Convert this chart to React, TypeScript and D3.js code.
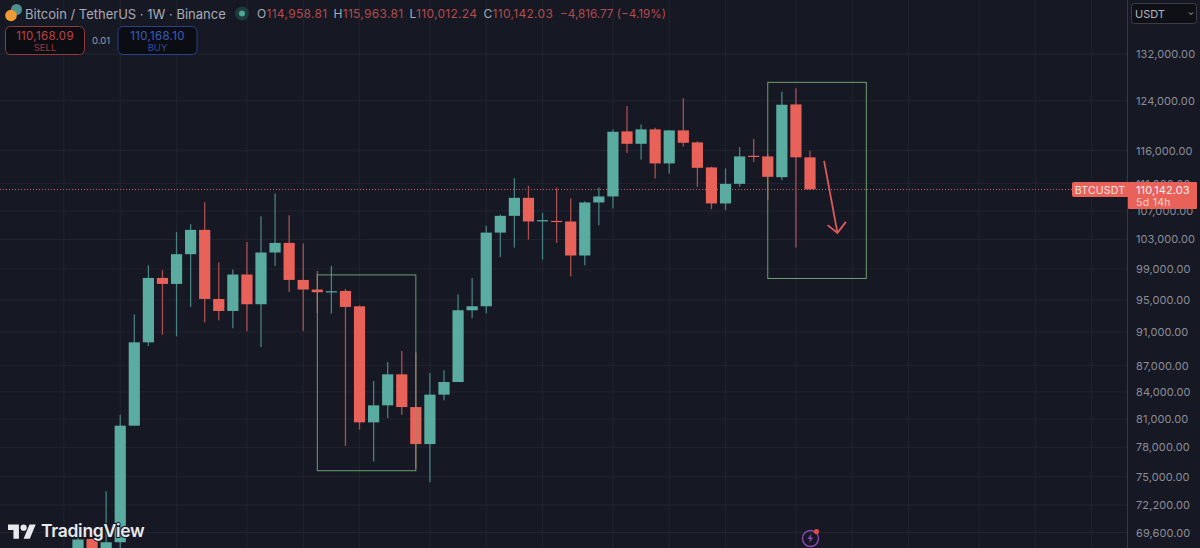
import * as d3 from "d3";
import { useEffect, useRef } from "react";

const WIDTH = 1200;
const HEIGHT = 548;

// weekly BTC/USDT candles (first few run off the bottom)
const opens = [
  67400, 69000, 67700, 68700, 80290, 89760, 97835, 97053, 100990, 104330, 95122, 93606, 98281,
  94450, 101220, 102529, 97573, 96327, 96018, 96147, 94190, 80647, 82504, 85999, 82316, 78338,
  83694, 85118, 93694, 94198, 103950, 106304, 108896, 105593, 105593, 105508, 100814, 108227,
  109100, 119020, 117061, 119340, 114028, 119180, 117280, 113420, 108082, 110956, 115195, 115101,
  111950, 123390, 114958.81,
];
const closes = [
  68950, 67600, 68700, 80290, 89760, 97835, 97053, 100990, 104330, 95122, 93606, 98281, 94450,
  101220, 102529, 97573, 96327, 95980, 96108, 94109, 80647, 82504, 85999, 82316, 78338, 83694,
  85118, 93694, 94198, 103950, 106304, 108896, 105508, 105692, 105452, 100814, 108227, 109100,
  118956, 117061, 119340, 114028, 119180, 117217, 113358, 108082, 110956, 115101, 115101, 112000,
  123336, 114958.81, 110142.03,
];
const highs = [
  69100, 69050, 73559, 81482, 93156, 99512, 98850, 104050, 105130, 108270, 99873, 98942, 102666,
  106260, 109539, 106402, 102447, 98756, 99420, 96405, 94323, 85232, 87427, 88725, 88535, 86149,
  86462, 95684, 97835, 104890, 106503, 111807, 110660, 106731, 110423, 108808, 108416, 110423,
  119340, 123121, 120140, 119595, 119260, 124397, 117437, 113530, 113267, 116544, 117800, 115460,
  125501, 126074, 115963.81,
];
const lows = [
  66900, 67000, 67000, 67000, 80290, 89321, 90695, 90489, 94109, 92163, 92448, 91463, 91097, 89201,
  99420, 96018, 91133, 93318, 93281, 78129, 79863, 76544, 81113, 81482, 75830, 74450, 83058, 85118,
  92696, 93281, 100625, 101900, 102997, 100276, 102529, 98058, 99512, 104990, 107361, 115612,
  114579, 111761, 112511, 116653, 110512, 107261, 107117, 110512, 114226, 108561, 111507, 101900,
  110012.24,
];

const priceTicks = [
  132000, 124000, 116000, 111000, 107000, 103000, 99000, 95000, 91000, 87000, 84000, 81000, 78000,
  75000, 72200, 69600,
];
// month lines, as bar numbers (they go on past the last candle)
const monthBars = [-1, 3, 7, 12, 16, 20, 25, 29, 33, 38, 42, 46, 51, 55, 59, 64, 68, 72];

// the two green rectangles and the red arrow, in bar number / price
const boxBars = [[17, 24], [49, 56]];
const boxPrices = [[98229, 75597], [127090, 97760]];
const arrowShaft: [number, number][] = [[53, 114425], [53.95, 103911]];
const arrowHead: [number, number][] = [[53.25, 104990], [53.95, 103911], [54.55, 105453]];

const lastPrice = closes[closes.length - 1];

const BG = "#161824";
const UP = "#5aaca1";
const DOWN = "#e8625a";
const UP_WICK = "#47807f";
const DOWN_WICK = "#a94f50";
const GRID = "#22252f";
const BOX = "#6c9f6f";
const FONT = "Inter, 'Noto Sans', sans-serif";

export default function App() {
  const svgRef = useRef<SVGSVGElement | null>(null);

  useEffect(() => {
    const svg = d3.select(svgRef.current);
    svg.selectAll("*").remove();
    svg.attr("font-family", FONT);

    const x = d3.scaleLinear().domain([0, 52]).range([78, 810]);
    const y = d3.scaleLog().domain([132000, 69600]).range([54, 532.5]);
    const axisX = 1127.5;
    const fmt = d3.format(",.2f");

    svg.append("rect").attr("width", WIDTH).attr("height", HEIGHT).attr("fill", BG);

    // Gridlines
    const grid = svg.append("g").attr("stroke", GRID).attr("stroke-width", 1);
    grid.selectAll("line.h")
      .data(priceTicks)
      .enter()
      .append("line")
      .attr("x1", 0)
      .attr("x2", axisX)
      .attr("y1", d => y(d))
      .attr("y2", d => y(d));
    grid.selectAll("line.v")
      .data(monthBars)
      .enter()
      .append("line")
      .attr("x1", d => x(d))
      .attr("x2", d => x(d))
      .attr("y1", 0)
      .attr("y2", HEIGHT);

    // last price line
    const tagY = Math.round(y(lastPrice)) + 0.5;
    svg.append("line")
      .attr("x1", 0)
      .attr("x2", axisX)
      .attr("y1", tagY)
      .attr("y2", tagY)
      .attr("stroke", "#c9605f")
      .attr("stroke-width", 1)
      .attr("stroke-dasharray", "1 2");

    // candles
    const bars = d3.range(opens.length);
    svg.append("g")
      .selectAll("line")
      .data(bars)
      .enter()
      .append("line")
      .attr("x1", i => x(i))
      .attr("x2", i => x(i))
      .attr("y1", i => y(highs[i]))
      .attr("y2", i => y(lows[i]))
      .attr("stroke", i => (closes[i] >= opens[i] ? UP_WICK : DOWN_WICK))
      .attr("stroke-width", 1.3);

    svg.append("g")
      .selectAll("rect")
      .data(bars)
      .enter()
      .append("rect")
      .attr("x", i => x(i) - 5.6)
      .attr("width", 11.2)
      .attr("y", i => y(Math.max(opens[i], closes[i])))
      .attr("height", i => Math.max(1.2, Math.abs(y(opens[i]) - y(closes[i]))))
      .attr("fill", i => (closes[i] >= opens[i] ? UP : DOWN));

    // annotations
    boxBars.forEach((b, k) => {
      svg.append("rect")
        .attr("x", x(b[0]))
        .attr("y", y(boxPrices[k][0]))
        .attr("width", x(b[1]) - x(b[0]))
        .attr("height", y(boxPrices[k][1]) - y(boxPrices[k][0]))
        .attr("fill", "none")
        .attr("stroke", BOX)
        .attr("stroke-width", 1);
    });

    const arrowLine = d3.line<[number, number]>()
      .x(d => x(d[0]))
      .y(d => y(d[1]));
    [arrowShaft, arrowHead].forEach(pts => {
      svg.append("path")
        .attr("d", arrowLine(pts))
        .attr("fill", "none")
        .attr("stroke", "#dc5a5c")
        .attr("stroke-width", 1.8);
    });

    // Y Axis
    svg.append("line")
      .attr("x1", axisX)
      .attr("x2", axisX)
      .attr("y1", 0)
      .attr("y2", HEIGHT)
      .attr("stroke", "#363945");

    const axis = svg.append("g")
      .attr("transform", `translate(${axisX},0)`)
      .call(
        d3.axisRight(y)
          .tickValues(priceTicks)
          .tickSize(0)
          .tickPadding(8.5)
          .tickFormat(d => fmt(d as number))
      );
    axis.select(".domain").remove();
    axis.selectAll("text")
      .attr("fill", "#8b8e98")
      .attr("font-size", 11)
      .attr("letter-spacing", 0.1)
      .attr("font-family", FONT);

    // last price tags
    svg.append("rect")
      .attr("x", 1072)
      .attr("y", tagY - 7.5)
      .attr("width", 57)
      .attr("height", 15)
      .attr("rx", 2)
      .attr("fill", DOWN);
    svg.append("text")
      .attr("x", 1100)
      .attr("y", tagY + 4)
      .attr("text-anchor", "middle")
      .attr("fill", "#f6e4e2")
      .attr("font-size", 10.5)
      .attr("letter-spacing", 0.2)
      .text("BTCUSDT");
    svg.append("rect")
      .attr("x", 1128)
      .attr("y", tagY - 7.5)
      .attr("width", 69)
      .attr("height", 27)
      .attr("rx", 1)
      .attr("fill", DOWN);
    svg.append("text")
      .attr("x", 1136)
      .attr("y", tagY + 4)
      .attr("fill", "#fbeeec")
      .attr("font-size", 11)
      .attr("letter-spacing", 0.1)
      .text(fmt(lastPrice));
    svg.append("text")
      .attr("x", 1136)
      .attr("y", tagY + 16)
      .attr("fill", "#f6cfca")
      .attr("font-size", 10.5)
      .attr("letter-spacing", 0.3)
      .text("5d 14h");

    // currency select
    svg.append("rect")
      .attr("x", 1131.5)
      .attr("y", 3.5)
      .attr("width", 65)
      .attr("height", 20)
      .attr("rx", 3)
      .attr("fill", "#0f1016")
      .attr("stroke", "#3a3d47");
    svg.append("text")
      .attr("x", 1135)
      .attr("y", 18)
      .attr("fill", "#b2b5be")
      .attr("font-size", 11)
      .text("USDT");
    svg.append("path")
      .attr("d", "M1189 12.5l2 2 2-2")
      .attr("fill", "none")
      .attr("stroke", "#b2b5be")
      .attr("stroke-width", 1);

    // header
    svg.append("circle").attr("cx", 16.5).attr("cy", 9.5).attr("r", 5.5).attr("fill", "#4f8f8d");
    svg.append("circle").attr("cx", 11).attr("cy", 15.5).attr("r", 5.8).attr("fill", "#ee9a36");
    svg.append("text")
      .attr("x", 25)
      .attr("y", 18.5)
      .attr("fill", "#a9acb6")
      .attr("font-size", 13)
      .text("Bitcoin / TetherUS · 1W · Binance");
    svg.append("circle").attr("cx", 242).attr("cy", 13.5).attr("r", 7).attr("fill", "#1d3b3d");
    svg.append("circle").attr("cx", 242).attr("cy", 13.5).attr("r", 3).attr("fill", "#4fa595");

    const ohlc: [number, string, string][] = [
      [257, "O", "114,958.81"],
      [333.5, "H", "115,963.81"],
      [409.5, "L", "110,012.24"],
      [483.5, "C", "110,142.03"],
    ];
    ohlc.forEach(([px, key, val]) => {
      const t = svg.append("text")
        .attr("x", px)
        .attr("y", 17.5)
        .attr("font-size", 12)
        .attr("letter-spacing", 0.3);
      t.append("tspan").attr("fill", "#a9acb6").text(key);
      t.append("tspan").attr("fill", "#b34c4c").text(val);
    });
    svg.append("text")
      .attr("x", 560)
      .attr("y", 17.5)
      .attr("font-size", 11.7)
      .attr("fill", "#b34c4c")
      .text("−4,816.77 (−4.19%)");

    // sell / buy buttons
    const buttons: [number, string, string, string, string][] = [
      [5, "110,168.09", "SELL", "#8e3b3f", "#bd4447"],
      [117.5, "110,168.10", "BUY", "#27418a", "#3a5cc0"],
    ];
    buttons.forEach(([bx, price, label, border, color]) => {
      svg.append("rect")
        .attr("x", bx + 0.5)
        .attr("y", 26.5)
        .attr("width", 79)
        .attr("height", 28)
        .attr("rx", 5)
        .attr("fill", "#0c0d12")
        .attr("stroke", border);
      svg.append("text")
        .attr("x", bx + 40)
        .attr("y", 40)
        .attr("text-anchor", "middle")
        .attr("fill", color)
        .attr("font-size", 11.5)
        .attr("letter-spacing", 0.3)
        .text(price);
      svg.append("text")
        .attr("x", bx + 40)
        .attr("y", 51)
        .attr("text-anchor", "middle")
        .attr("fill", color)
        .attr("opacity", 0.8)
        .attr("font-size", 9.5)
        .text(label);
    });
    svg.append("text")
      .attr("x", 101)
      .attr("y", 44)
      .attr("text-anchor", "middle")
      .attr("fill", "#9a9da6")
      .attr("font-size", 9.5)
      .text("0.01");

    // TradingView mark
    const logo = svg.append("g").attr("transform", "translate(8,521.5) scale(0.78)").attr("fill", "#e8e9ec");
    logo.append("path").attr("d", "M14 22H7V11H0V4h14v18zM28 22h-8l7.5-18h8L28 22z");
    logo.append("circle").attr("cx", 20).attr("cy", 8).attr("r", 4);
    svg.append("text")
      .attr("x", 41)
      .attr("y", 537)
      .attr("fill", "#e8e9ec")
      .attr("stroke", BG)
      .attr("stroke-width", 2)
      .attr("paint-order", "stroke")
      .attr("font-size", 17.5)
      .attr("font-weight", 600)
      .attr("letter-spacing", -0.3)
      .text("TradingView");

    // bolt badge
    svg.append("circle")
      .attr("cx", 810.5)
      .attr("cy", 538.5)
      .attr("r", 8)
      .attr("fill", "none")
      .attr("stroke", "#8a4bb0")
      .attr("stroke-width", 1.4);
    svg.append("path")
      .attr("d", "M811.5 533.5l-4 5.5h2.6l-1 4 4.2-5.6h-2.6z")
      .attr("fill", "#8a4bb0");
    svg.append("circle").attr("cx", 816.5).attr("cy", 531.5).attr("r", 2.6).attr("fill", "#e0484f");
  }, []);

  return (
    <div style={{ position: "absolute", left: 0, top: 0 }}>
      <svg ref={svgRef} width={WIDTH} height={HEIGHT} style={{ display: "block" }} />
    </div>
  );
}
